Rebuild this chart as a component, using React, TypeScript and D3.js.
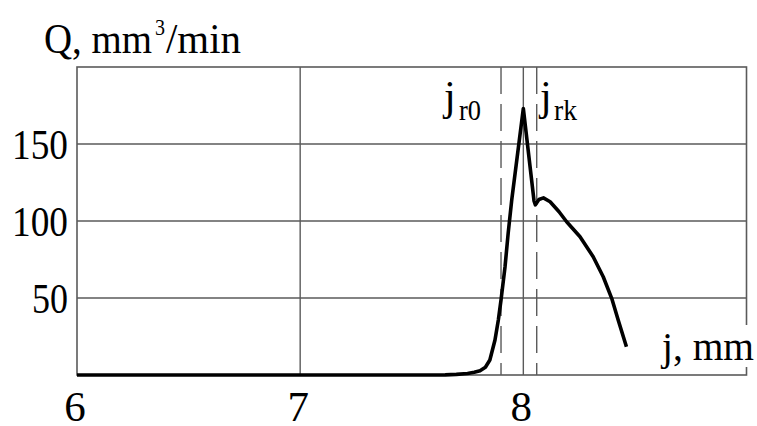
import React from "react";
import * as d3 from "d3";

const xVals = [6, 7.6, 7.65, 7.7, 7.75, 7.78, 7.806, 7.83, 7.85, 7.873, 7.888, 7.9, 7.918, 7.932, 7.948, 8.0, 8.048, 8.054, 8.07, 8.09, 8.12, 8.16, 8.194, 8.254, 8.313, 8.358, 8.396, 8.425, 8.462];
const qVals = [0, 0, 0.1, 0.4, 1.0, 1.8, 2.8, 5.0, 9.7, 22.7, 35.7, 48.7, 70.3, 92, 113.6, 173, 113, 110.5, 114, 115, 112.5, 106, 99.5, 89.8, 76.8, 63.8, 49.8, 35.7, 18.4];
const xTicks = [6, 7, 8];
const yTicks = [50, 100, 150];
const xGrid = [7, 8];
const markers = [
  { x: 7.9, sub: "r0" },
  { x: 8.06, sub: "rk" },
];

const W = 757, H = 426;
const FONT = '"Liberation Serif"';

export default function App() {
  const x = d3.scaleLinear().domain([6, 9]).range([77, 746.5]);
  const y = d3.scaleLinear().domain([0, 200]).range([375, 67]);
  const pts: [number, number][] = xVals.map((v, i) => [v, qVals[i]]);
  const line = d3.line<[number, number]>().x(d => x(d[0])).y(d => y(d[1])).curve(d3.curveLinear);
  const grid = "#5a5a5a";
  const ts = { fontFamily: FONT };
  const fit = (len: number) => ({ textLength: len, lengthAdjust: "spacingAndGlyphs" as const });
  return (
    <svg width={W} height={H} style={{ display: "block", position: "absolute", left: 0, top: 0, background: "#fff" }}>
      <rect x={0} y={0} width={W} height={H} fill="#fff" />
      {yTicks.map(t => (
        <line key={"h" + t} x1={x(6)} x2={x(9)} y1={y(t)} y2={y(t)} stroke={grid} strokeWidth={1.4} />
      ))}
      {xGrid.map(t => (
        <line key={"v" + t} x1={x(t)} x2={x(t)} y1={y(0)} y2={y(200)} stroke={grid} strokeWidth={1.4} />
      ))}
      {markers.map(m => (
        <line key={"m" + m.sub} x1={x(m.x)} x2={x(m.x)} y1={y(200)} y2={y(0)} stroke={grid} strokeWidth={1.4} strokeDasharray="27 10" />
      ))}
      <rect x={x(6)} y={y(200)} width={x(9) - x(6)} height={y(0) - y(200)} fill="none" stroke={grid} strokeWidth={1.6} />
      <path d={line(pts) || ""} fill="none" stroke="#000" strokeWidth={3.6} strokeLinejoin="round" strokeLinecap="butt" />

      <text x={44} y={53} fontSize={42} style={ts} {...fit(108)}>Q, mm</text>
      <text x={155} y={35} fontSize={24} style={ts} {...fit(10)}>3</text>
      <text x={166} y={53} fontSize={42} style={ts} {...fit(75)}>/min</text>

      {yTicks.map(t => (
        <text key={"yl" + t} x={t >= 100 ? 12 : 32} y={y(t) + 15} fontSize={43} style={ts} {...fit(t >= 100 ? 56 : 36)}>{t}</text>
      ))}
      {xTicks.map(t => (
        <text key={"xl" + t} x={x(t) - 2} y={421} fontSize={43} textAnchor="middle" style={ts}>{t}</text>
      ))}
      <text x={444} y={110} fontSize={42} style={ts}>j</text>
      <text x={459} y={120} fontSize={30} style={ts} {...fit(22)}>r0</text>
      <text x={540} y={110} fontSize={42} style={ts}>j</text>
      <text x={554} y={120} fontSize={30} style={ts} {...fit(23)}>rk</text>
      <rect x={658} y={325} width={99} height={42} fill="#fff" />
      <text x={662} y={360} fontSize={41} style={ts} {...fit(92)}>j, mm</text>
    </svg>
  );
}
